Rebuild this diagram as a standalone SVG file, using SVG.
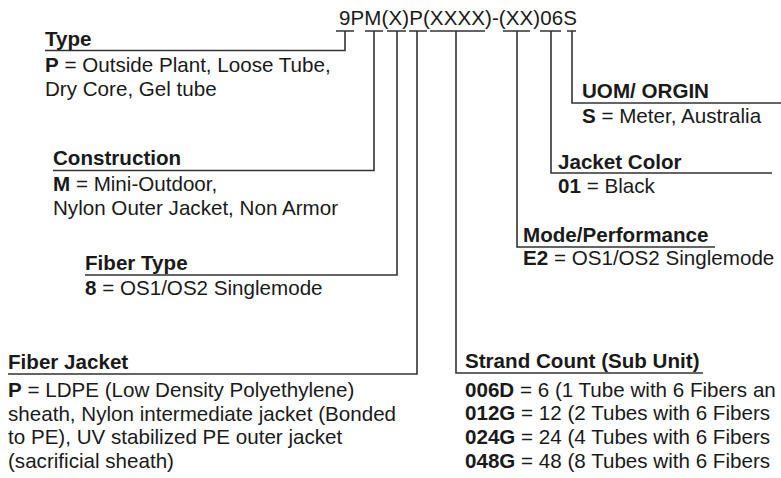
<svg xmlns="http://www.w3.org/2000/svg" width="781" height="478" viewBox="0 0 781 478">
<style>
text{font-family:"Liberation Sans",Arial,Helvetica,sans-serif;font-size:20.6px;fill:#1a1a1a}
.h{font-weight:bold}
.b{font-weight:bold}
.code{font-size:20.5px}
.ln{fill:none;stroke:#333;stroke-width:1.6}
</style>
<rect width="781" height="478" fill="#fff"/>
<g id="code">
<text class="code" x="339" y="25" textLength="238" lengthAdjust="spacing">9PM(X)P(XXXX)-(XX)06S</text>
</g>
<g id="connectors">
<path class="ln" d="M336,31H354M345,31V50.5H45"/>
<path class="ln" d="M365,31H383M374,31V170.5H53"/>
<path class="ln" d="M387,31H406M397,31V275H85"/>
<path class="ln" d="M409,31H427M417,31V374H8"/>
<path class="ln" d="M430,31H485M456,31V373H703"/>
<path class="ln" d="M503,31H530M517,31V247H715"/>
<path class="ln" d="M540,31H561M551,31V173H772"/>
<path class="ln" d="M567,31H576M572,31V103H781"/>
</g>
<g id="type">
<text class="h" x="45" y="46">Type</text>
<text x="45" y="72"><tspan class="b">P</tspan> = Outside Plant, Loose Tube,</text>
<text x="45" y="96">Dry Core, Gel tube</text>
</g>
<g id="construction">
<text class="h" x="53" y="165">Construction</text>
<text x="53" y="191"><tspan class="b">M</tspan> = Mini-Outdoor,</text>
<text x="53" y="215">Nylon Outer Jacket, Non Armor</text>
</g>
<g id="fiber-type">
<text class="h" x="85" y="270">Fiber Type</text>
<text x="85" y="295"><tspan class="b">8</tspan> = OS1/OS2 Singlemode</text>
</g>
<g id="fiber-jacket">
<text class="h" x="8" y="369">Fiber Jacket</text>
<text x="8" y="397"><tspan class="b">P</tspan> = LDPE (Low Density Polyethylene)</text>
<text x="8" y="421">sheath, Nylon intermediate jacket (Bonded</text>
<text x="8" y="444">to PE), UV stabilized PE outer jacket</text>
<text x="8" y="468">(sacrificial sheath)</text>
</g>
<g id="strand-count">
<text class="h" x="465" y="368">Strand Count (Sub Unit)</text>
<text x="465" y="397"><tspan class="b">006D</tspan> = 6 (1 Tube with 6 Fibers an</text>
<text x="465" y="420"><tspan class="b">012G</tspan> = 12 (2 Tubes with 6 Fibers</text>
<text x="465" y="444"><tspan class="b">024G</tspan> = 24 (4 Tubes with 6 Fibers</text>
<text x="465" y="468"><tspan class="b">048G</tspan> = 48 (8 Tubes with 6 Fibers</text>
</g>
<g id="mode-performance">
<text class="h" x="523" y="242">Mode/Performance</text>
<text x="523" y="265"><tspan class="b">E2</tspan> = OS1/OS2 Singlemode</text>
</g>
<g id="jacket-color">
<text class="h" x="558" y="169">Jacket Color</text>
<text x="558" y="193"><tspan class="b">01</tspan> = Black</text>
</g>
<g id="uom-origin">
<text class="h" x="582" y="98">UOM/ ORGIN</text>
<text x="582" y="123"><tspan class="b">S</tspan> = Meter, Australia</text>
</g>
</svg>
